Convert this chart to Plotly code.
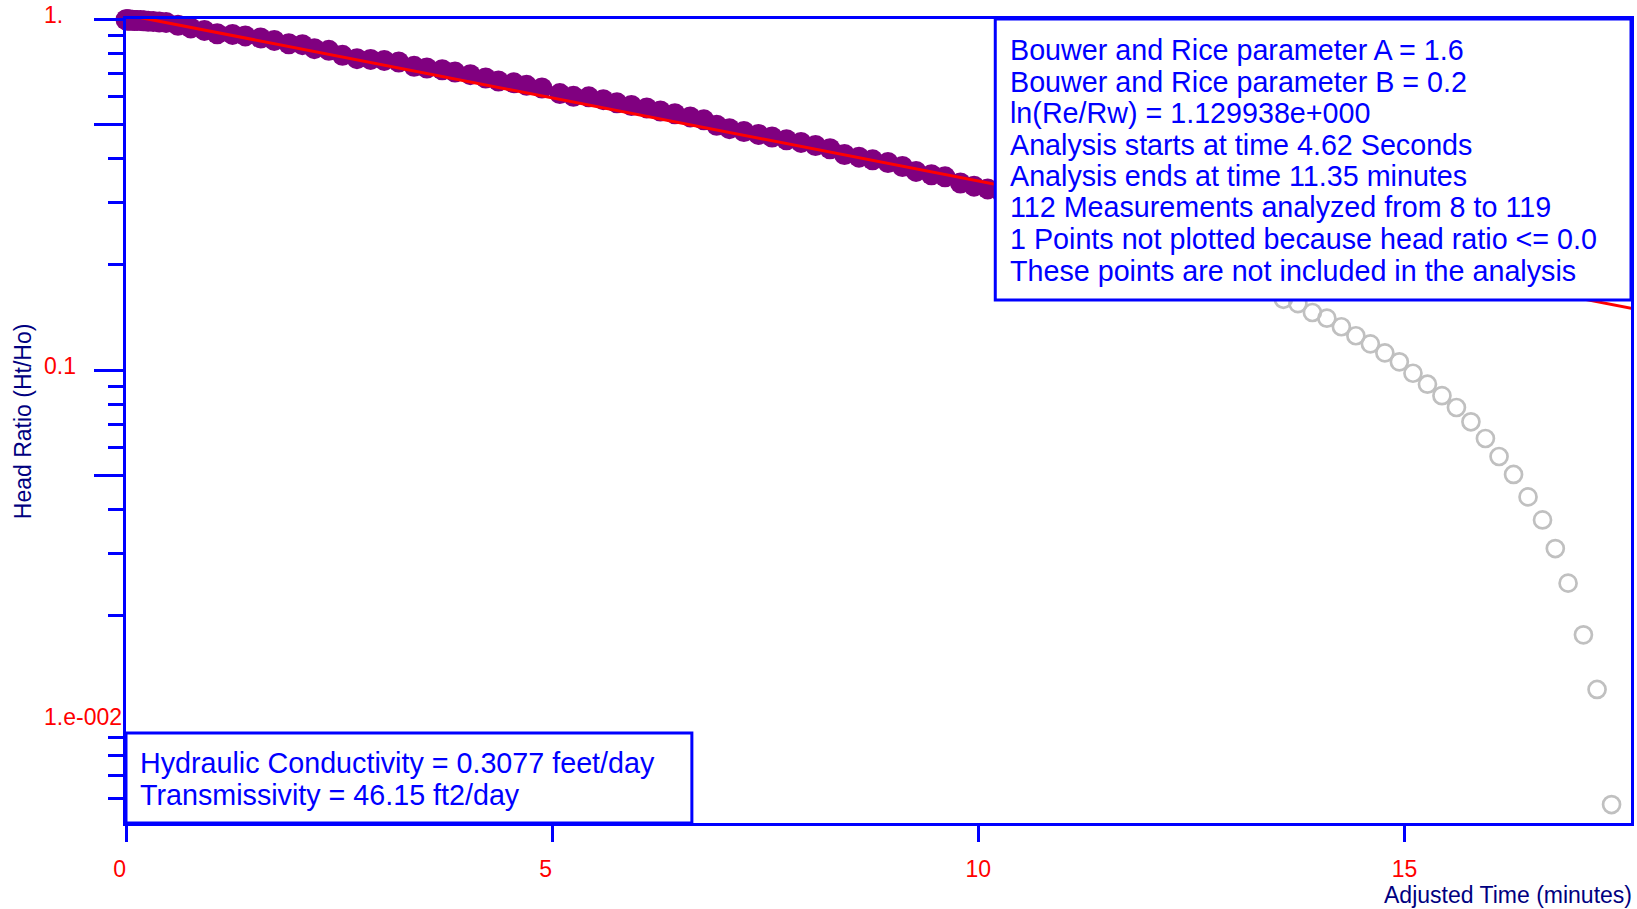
import math
import plotly.graph_objects as go

# ---------------- data ----------------
# analysed measurements (purple), time in minutes, head ratio Ht/Ho
analysed_t = [0.0, 0.01, 0.02, 0.035, 0.05, 0.077, 0.10, 0.13, 0.17, 0.21, 0.26, 0.32, 0.39, 0.47,
              0.61, 0.76, 0.92, 1.07, 1.25, 1.40, 1.58, 1.74, 1.91, 2.07, 2.21, 2.38, 2.54, 2.71,
              2.87, 3.03, 3.20, 3.38, 3.53, 3.71, 3.86, 4.04, 4.22, 4.37, 4.55, 4.70, 4.88, 5.09,
              5.25, 5.43, 5.60, 5.76, 5.93, 6.11, 6.27, 6.44, 6.62, 6.78, 6.93, 7.08, 7.25, 7.42,
              7.58, 7.75, 7.92, 8.09, 8.26, 8.43, 8.60, 8.76, 8.94, 9.11, 9.27, 9.45, 9.61, 9.79,
              9.95, 10.11, 10.27]
analysed_h = [0.995, 0.995, 0.994, 0.993, 0.993, 0.992, 0.991, 0.990, 0.990, 0.988, 0.986, 0.984, 0.981, 0.978,
              0.960, 0.943, 0.928, 0.908, 0.904, 0.895, 0.883, 0.869, 0.850, 0.845, 0.823, 0.814, 0.788, 0.771,
              0.767, 0.762, 0.754, 0.733, 0.725, 0.717, 0.706, 0.694, 0.679, 0.666, 0.658, 0.647, 0.636, 0.613,
              0.602, 0.600, 0.589, 0.577, 0.567, 0.558, 0.547, 0.537, 0.526, 0.516, 0.498, 0.487, 0.478, 0.469,
              0.461, 0.453, 0.445, 0.436, 0.427, 0.411, 0.404, 0.397, 0.390, 0.380, 0.368, 0.360, 0.355, 0.341,
              0.334, 0.328, 0.322]

# measurements after the analysis window (grey open circles)
excluded_t = [13.58, 13.75, 13.92, 14.09, 14.26, 14.43, 14.60, 14.77, 14.94, 15.10, 15.27, 15.44,
              15.61, 15.78, 15.95, 16.11, 16.28, 16.45, 16.62, 16.77, 16.92, 17.10, 17.26, 17.43]
excluded_h = [0.1590, 0.1546, 0.1458, 0.1405, 0.1328, 0.1252, 0.1187, 0.1119, 0.1055, 0.0979, 0.0911, 0.0845,
              0.0782, 0.0712, 0.0638, 0.0567, 0.0504, 0.0435, 0.0374, 0.0310, 0.0247, 0.0176, 0.0123, 0.00578]

# fitted straight line (log head ratio vs time)
fit_t = [0.077, 17.68]
fit_h = [1.0195, 0.1495]

NB = "\u00a0"
x_tick_vals = [0, 5, 10, 15]
x_tick_text = ["0" + NB * 2, "5" + NB * 2, "10", "15"]
y_major_vals = [1, 0.5, 0.1, 0.05]
y_minor_vals = [0.9, 0.8, 0.7, 0.6, 0.4, 0.3, 0.2, 0.09, 0.08, 0.07, 0.06, 0.04, 0.03, 0.02,
                0.009, 0.008, 0.007, 0.006]
y_label_vals = [1, 0.1, 0.01]
y_label_text = ["1.", "0.1", "1.e-002"]

info_lines = [
    "Bouwer and Rice parameter A = 1.6",
    "Bouwer and Rice parameter B = 0.2",
    "ln(Re/Rw) = 1.129938e+000",
    "Analysis starts at time 4.62 Seconds",
    "Analysis ends at time 11.35 minutes",
    "112 Measurements analyzed from 8 to 119",
    "1 Points not plotted because head ratio <= 0.0",
    "These points are not included in the analysis",
]
result_lines = [
    "Hydraulic Conductivity = 0.3077 feet/day",
    "Transmissivity = 46.15 ft2/day",
]

# ---------------- layout constants ----------------
W, H = 1637, 909
ML, MR, MT, MB = 126, 3, 19, 86
PW, PH = W - ML - MR, H - MT - MB
PX_PER_MIN = 85.4
PX_PER_DEC = 351.0
FONT = "Arial, Liberation Sans, sans-serif"
BLUE = "#0000ff"
NAVY = "#000080"
RED = "#ff0000"
BOX_FONT = 28.7
TICK_FONT = 23
TITLE_FONT = 23


def pxx(px):
    return (px - ML) / PW


def pxy(py):
    return (H - MB - py) / PH


fig = go.Figure()

fig.add_trace(go.Scatter(
    x=excluded_t, y=excluded_h, mode="markers", cliponaxis=False,
    marker=dict(symbol="circle-open", size=17, color="#c0c0c0", line=dict(width=2.7, color="#c0c0c0")),
    showlegend=False, hoverinfo="skip"))

fig.add_trace(go.Scatter(
    x=analysed_t, y=analysed_h, mode="markers", cliponaxis=False,
    marker=dict(symbol="circle", size=21, color="#800080", line=dict(width=0)),
    showlegend=False, hoverinfo="skip"))

fig.add_trace(go.Scatter(
    x=fit_t, y=fit_h, mode="lines", line=dict(color=RED, width=3),
    showlegend=False, hoverinfo="skip"))

# boxes
fig.add_shape(type="rect", xref="paper", yref="paper", layer="above",
              x0=pxx(997), x1=1, y0=pxy(300), y1=1,
              line=dict(color=BLUE, width=3), fillcolor="white")
fig.add_shape(type="rect", xref="paper", yref="paper", layer="above",
              x0=0, x1=pxx(693), y0=0, y1=pxy(733),
              line=dict(color=BLUE, width=3), fillcolor="white")

annotations = []
for i, line in enumerate(info_lines):
    annotations.append(dict(
        text=line, xref="paper", yref="paper", x=pxx(1010), y=pxy(50 + 31.5 * i),
        xanchor="left", yanchor="middle", showarrow=False,
        font=dict(family=FONT, size=BOX_FONT, color=BLUE)))
for i, line in enumerate(result_lines):
    annotations.append(dict(
        text=line, xref="paper", yref="paper", x=pxx(138), y=pxy(763 + 32 * i),
        xanchor="left", yanchor="middle", showarrow=False,
        font=dict(family=FONT, size=BOX_FONT, color=BLUE)))

# y tick labels (left aligned as in the reference)
for v, t in zip(y_label_vals, y_label_text):
    annotations.append(dict(
        text=t, xref="paper", yref="y", x=pxx(42), y=math.log10(v), yshift=4,
        xanchor="left", yanchor="middle", showarrow=False,
        font=dict(family=FONT, size=TICK_FONT, color=RED)))

# axis titles
annotations.append(dict(
    text="Head Ratio (Ht/Ho)", xref="paper", yref="paper", x=pxx(23), y=pxy(421),
    xanchor="center", yanchor="middle", textangle=-90, showarrow=False,
    font=dict(family=FONT, size=TITLE_FONT, color=NAVY)))
annotations.append(dict(
    text="Adjusted Time (minutes)", xref="paper", yref="paper", x=pxx(1637), y=pxy(895),
    xanchor="right", yanchor="middle", showarrow=False,
    font=dict(family=FONT, size=TITLE_FONT, color=NAVY)))

fig.update_layout(
    width=W, height=H,
    margin=dict(l=ML, r=MR, t=MT, b=MB, pad=0),
    paper_bgcolor="white", plot_bgcolor="white",
    annotations=annotations,
    font=dict(family=FONT),
)

fig.update_xaxes(
    range=[0, PW / PX_PER_MIN], tickmode="array", tickvals=x_tick_vals, ticktext=x_tick_text,
    ticks="outside", ticklen=16, tickwidth=3, tickcolor=BLUE,
    tickfont=dict(family=FONT, size=TICK_FONT, color=RED), ticklabelstandoff=7,
    showline=True, linecolor=BLUE, linewidth=3, mirror=True,
    showgrid=False, zeroline=False)

fig.update_yaxes(
    type="log", range=[-PH / PX_PER_DEC, 0], tickmode="array", tickvals=y_major_vals,
    showticklabels=False, ticks="outside", ticklen=29, tickwidth=3, tickcolor=BLUE,
    minor=dict(tickmode="array", tickvals=y_minor_vals, ticks="outside", ticklen=15,
               tickwidth=3, tickcolor=BLUE, showgrid=False),
    showline=True, linecolor=BLUE, linewidth=3, mirror=True,
    showgrid=False, zeroline=False)

fig.write_html("out.html", config={"displayModeBar": False},
               post_script="document.body.style.margin='0';document.body.style.overflow='hidden';")
